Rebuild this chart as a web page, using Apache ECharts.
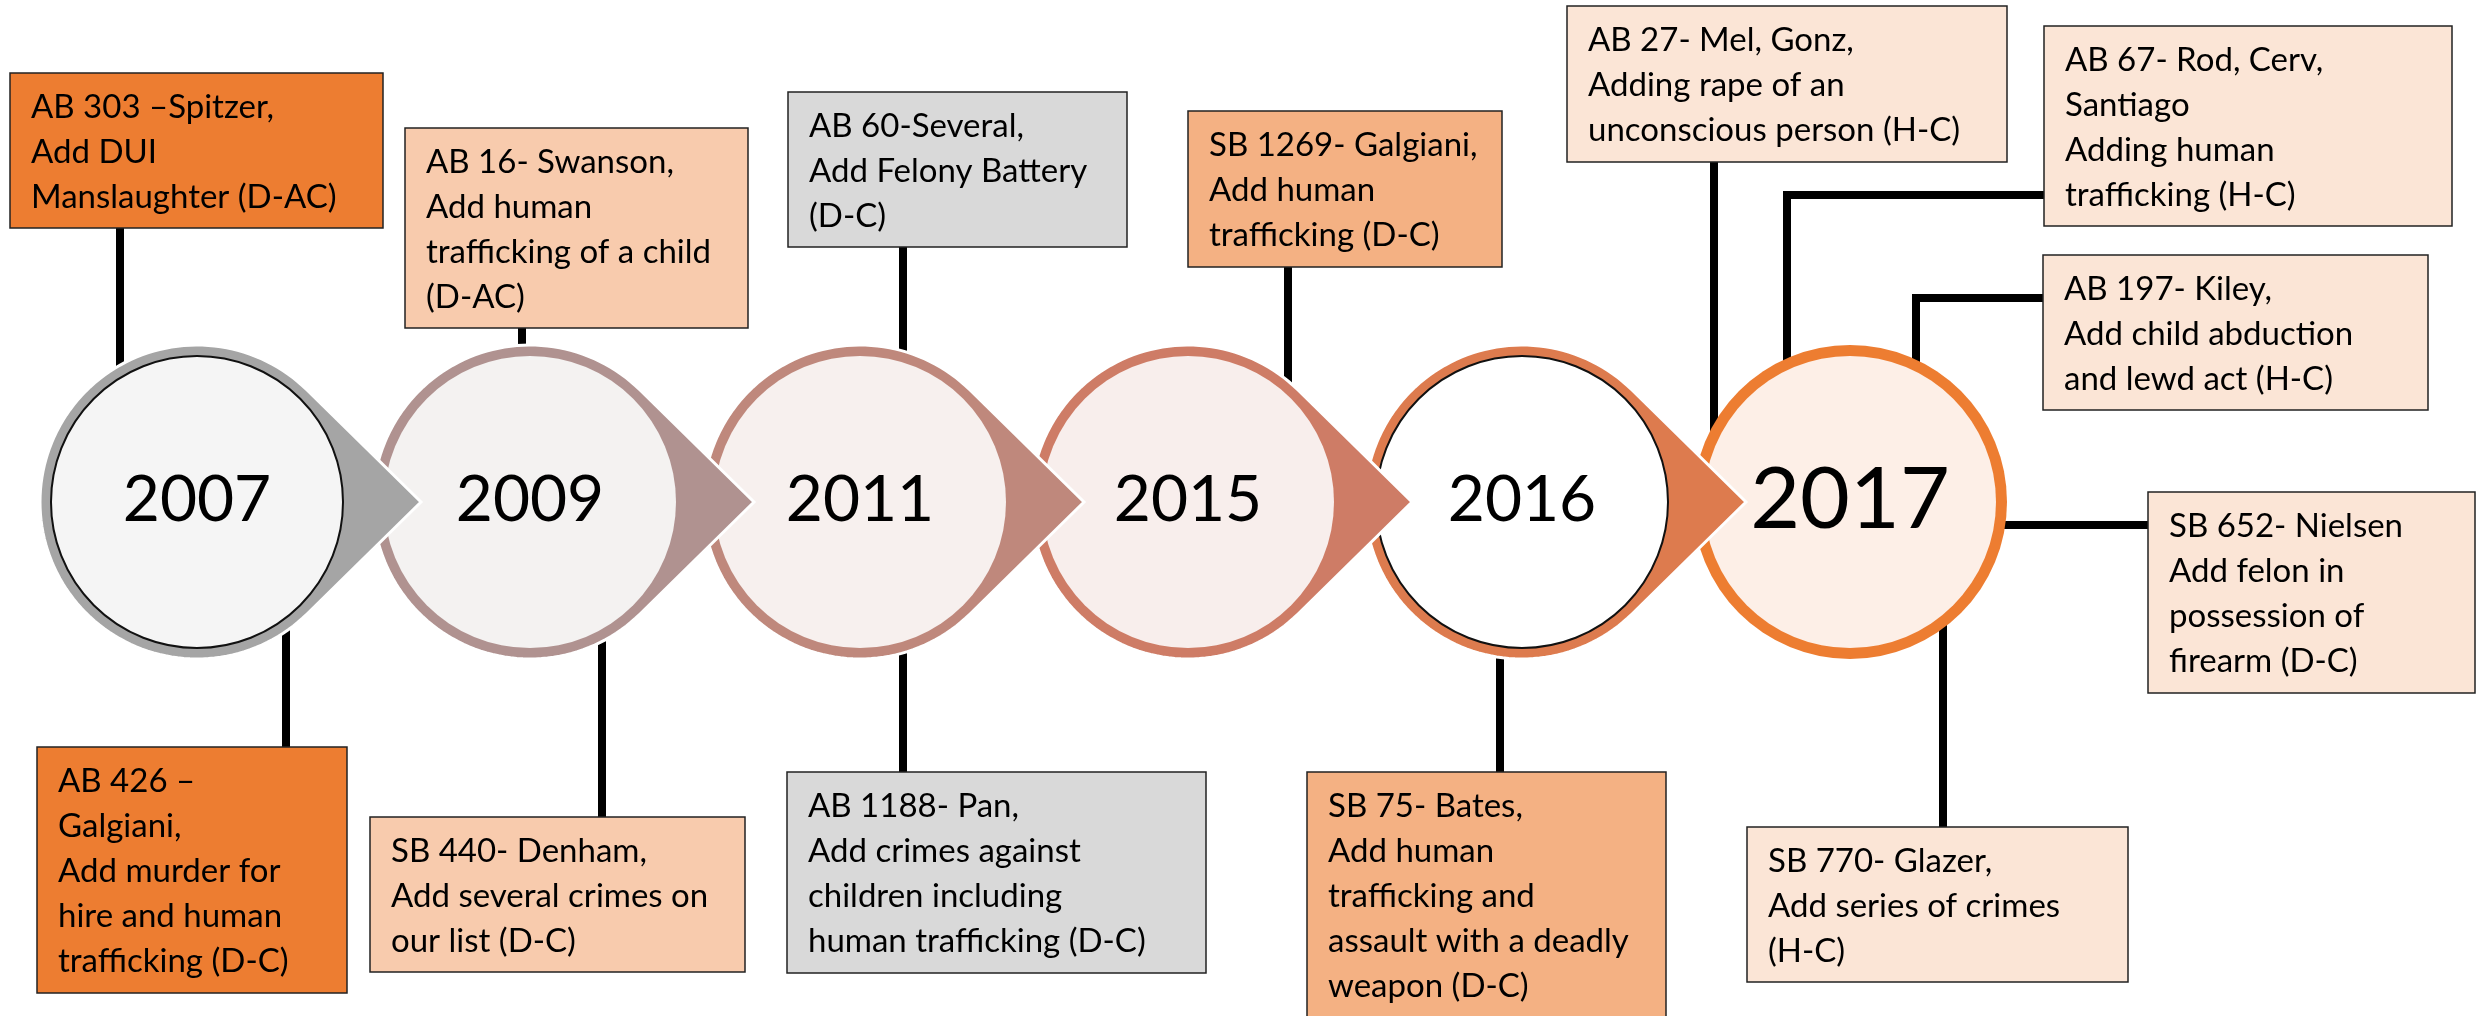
<!DOCTYPE html>
<html>
<head>
<meta charset="utf-8">
<script src="https://cdn.jsdelivr.net/npm/echarts@6/dist/echarts.min.js"></script>
<style>
  html, body { margin: 0; padding: 0; background: #fff; }
  #main { width: 2478px; height: 1016px; }
</style>
</head>
<body>
<div id="main"></div>
<script>
// years on the timeline
const years = ['2007', '2009', '2011', '2015', '2016', '2017'];
// bills, text lines
const billText = [
  ['AB 303 –Spitzer,', 'Add DUI', 'Manslaughter (D-AC)'],
  ['AB 426 –', 'Galgiani,', 'Add murder for', 'hire and human', 'trafficking (D-C)'],
  ['AB 16- Swanson,', 'Add human', 'trafficking of a child', '(D-AC)'],
  ['SB 440- Denham,', 'Add several crimes on', 'our list (D-C)'],
  ['AB 60-Several,', 'Add Felony Battery', '(D-C)'],
  ['AB 1188- Pan,', 'Add crimes against', 'children including', 'human trafficking (D-C)'],
  ['SB 1269- Galgiani,', 'Add human', 'trafficking (D-C)'],
  ['SB 75- Bates,', 'Add human', 'trafficking and', 'assault with a deadly', 'weapon (D-C)'],
  ['AB 27- Mel, Gonz,', 'Adding rape of an', 'unconscious person (H-C)'],
  ['AB 67- Rod, Cerv,', 'Santiago', 'Adding human', 'trafficking (H-C)'],
  ['AB 197- Kiley,', 'Add child abduction', 'and lewd act (H-C)'],
  ['SB 652- Nielsen', 'Add felon in', 'possession of', 'firearm (D-C)'],
  ['SB 770- Glazer,', 'Add series of crimes', '(H-C)']
];

// ---- layout (picture coordinates) ----
const yearX = [197, 530, 860, 1188, 1522, 1850];
const yearY = 502;
const ringR = 157, innerR = 146, tipDist = 224;
const ringColor = ['#A5A5A5', '#B09290', '#BF887C', '#CE7C66', '#DD7B4E', '#ED7D31'];
const innerColor = ['#F5F5F5', '#F4F2F1', '#F7F0EE', '#F8EEEC', '#FFFFFF', '#FDEFE7'];
const innerEdge = [true, false, false, false, true, false];
const hasArrow = [true, true, true, true, true, false];
const yearFont = [64, 64, 64, 64, 64, 86];

// box rect [x0, y0, x1, y1]
const boxRect = [
  [10, 73, 383, 228],
  [37, 747, 347, 993],
  [405, 128, 748, 328],
  [370, 817, 745, 972],
  [788, 92, 1127, 247],
  [787, 772, 1206, 973],
  [1188, 111, 1502, 267],
  [1307, 772, 1666, 1030],
  [1567, 6, 2007, 162],
  [2044, 26, 2452, 226],
  [2043, 255, 2428, 410],
  [2148, 492, 2475, 693],
  [1747, 827, 2128, 982]
];
const boxFill = ['#ED7D31', '#ED7D31', '#F8CBAD', '#F8CBAD', '#D9D9D9', '#D9D9D9',
  '#F4B183', '#F4B183', '#FBE5D6', '#FBE5D6', '#FBE5D6', '#FBE5D6', '#FBE5D6'];
// connector polylines from box to circle
const connectors = [
  [[120, 228], [120, 502]],
  [[286, 747], [286, 502]],
  [[522, 328], [522, 502]],
  [[602, 817], [602, 502]],
  [[903, 247], [903, 502]],
  [[903, 772], [903, 502]],
  [[1288, 267], [1288, 502]],
  [[1500, 772], [1500, 640]],
  [[1714, 162], [1714, 502]],
  [[2044, 195], [1787, 195], [1787, 502]],
  [[2043, 298], [1916, 298], [1916, 502]],
  [[2148, 525], [1850, 525]],
  [[1943, 827], [1943, 502]]
];

const chart = echarts.init(document.getElementById('main'), null, { renderer: 'canvas' });

function circleItem(params, api) {
  const i = api.value(2);
  const c = api.coord([api.value(0), api.value(1)]);
  const r = api.size([ringR, 0])[0];
  const ri = api.size([innerR, 0])[0];
  const d = api.size([tipDist, 0])[0];
  const children = [];
  if (hasArrow[i]) {
    const th = Math.acos(r / d);
    const pts = [];
    const n = 120;
    for (let k = 0; k <= n; k++) {
      const a = th + (2 * Math.PI - 2 * th) * k / n;
      pts.push([c[0] + r * Math.cos(a), c[1] - r * Math.sin(a)]);
    }
    pts.push([c[0] + d, c[1]]);
    children.push({
      type: 'polygon',
      shape: { points: pts },
      style: { fill: ringColor[i], stroke: '#fff', lineWidth: 3 }
    });
  } else {
    children.push({
      type: 'circle',
      shape: { cx: c[0], cy: c[1], r: r },
      style: { fill: ringColor[i] }
    });
  }
  children.push({
    type: 'circle',
    shape: { cx: c[0], cy: c[1], r: ri },
    style: { fill: innerColor[i], stroke: innerEdge[i] ? '#111' : null, lineWidth: 2 }
  });
  children.push({
    type: 'text',
    style: {
      text: years[i], x: c[0], y: c[1] - 2, align: 'center', verticalAlign: 'middle',
      fontFamily: 'Lato', fontSize: yearFont[i], fill: '#000'
    }
  });
  return { type: 'group', children: children };
}

function boxItem(params, api) {
  const i = api.value(4);
  const p0 = api.coord([api.value(0), api.value(1)]);
  const p1 = api.coord([api.value(2), api.value(3)]);
  return {
    type: 'group',
    children: [
      {
        type: 'rect',
        shape: { x: p0[0], y: p0[1], width: p1[0] - p0[0], height: p1[1] - p0[1] },
        style: { fill: boxFill[i], stroke: '#222', lineWidth: 1.5 }
      },
      {
        type: 'text',
        style: {
          text: billText[i].join('\n'), x: p0[0] + 21, y: p0[1] + 11.5,
          verticalAlign: 'top', fontFamily: 'Lato', fontSize: 33, lineHeight: 45, fill: '#000'
        }
      }
    ]
  };
}

function lineItem(params, api) {
  const i = api.value(2);
  const pts = connectors[i].map(p => api.coord(p));
  return {
    type: 'polyline',
    shape: { points: pts },
    style: { stroke: '#000', lineWidth: 8, fill: null }
  };
}

const circleData = years.map((y, i) => [yearX[i], yearY, i]).reverse();

chart.setOption({
  animation: false,
  grid: { left: 0, right: 0, top: 0, bottom: 0 },
  xAxis: { type: 'value', min: 0, max: 2478, show: false },
  yAxis: { type: 'value', min: 0, max: 1016, inverse: true, show: false },
  series: [
    {
      type: 'custom', z: 1, renderItem: lineItem,
      data: connectors.map((c, i) => [c[0][0], c[0][1], i])
    },
    {
      type: 'custom', z: 2, renderItem: circleItem,
      data: circleData
    },
    {
      type: 'custom', z: 3, renderItem: boxItem,
      data: boxRect.map((b, i) => [b[0], b[1], b[2], b[3], i])
    }
  ]
});
</script>
</body>
</html>
